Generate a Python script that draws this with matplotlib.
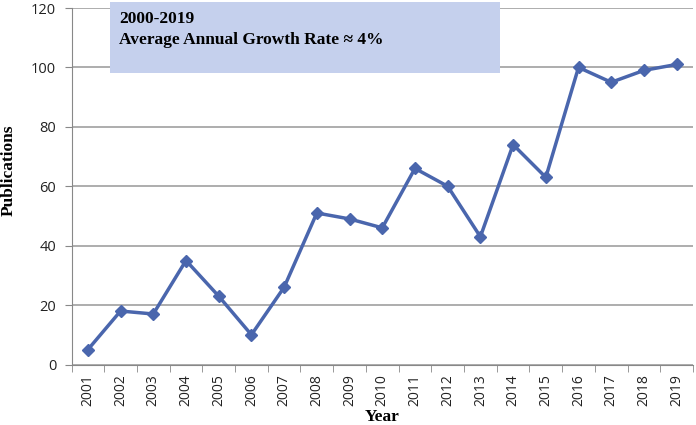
import matplotlib
matplotlib.use("Agg")
import matplotlib.pyplot as plt
from matplotlib.patches import Rectangle

years = [str(y) for y in range(2001, 2020)]
publications = [5, 18, 17, 35, 23, 10, 26, 51, 49, 46, 66, 60, 43, 74, 63, 100, 95, 99, 101]
yticks = [0, 20, 40, 60, 80, 100, 120]
box_lines = ["2000-2019", "Average Annual Growth Rate \u2248 4%"]

fig = plt.figure(figsize=(6.96, 4.25), dpi=100)
ax = fig.add_axes([71.5/696, 1 - 364.5/425, (693 - 71.5)/696, (364.5 - 8)/425])

x = list(range(len(years)))
ax.plot(x, publications, color="#4a66ad", lw=2.5, marker="D", ms=6.5,
        markerfacecolor="#4a66ad", markeredgecolor="#4a66ad", zorder=3)

ax.set_xlim(-0.5, len(years) - 0.5)
ax.set_ylim(0, 120)
ax.set_yticks(yticks)
ax.set_yticklabels([str(v) for v in yticks], fontsize=10.5, color="#222222",
                   family="Open Sans")
ax.set_xticks(x)
ax.set_xticklabels(years, rotation=90, fontsize=10, color="#222222", family="Open Sans")
ax.tick_params(axis="x", length=0, pad=7)
ax.set_xticks([i - 0.5 for i in range(len(years) + 1)], minor=True)
ax.tick_params(axis="x", which="minor", length=5, color="#888888", direction="out")
ax.tick_params(axis="y", length=5, color="#888888", pad=6)

ax.grid(axis="y", color="#a0a0a0", lw=1.2)
ax.set_axisbelow(True)
for s in ["top", "right"]:
    ax.spines[s].set_visible(False)
ax.spines["left"].set_color("#888888")
ax.spines["bottom"].set_color("#888888")

fig.text(9/696, 1 - 170/425, "Publications", fontsize=12.5, fontweight="bold",
         family="Liberation Serif", rotation=90, ha="center", va="center")
fig.text(382/696, 1 - 417/425, "Year", fontsize=12.5, fontweight="bold",
         family="Liberation Serif", ha="center", va="center")

# annotation box
fig.patches.append(Rectangle((110/696, 1 - 73/425), (500 - 110)/696, (73 - 2)/425,
                             transform=fig.transFigure, facecolor="#c5d0ed",
                             edgecolor="none", zorder=5))
fig.text(119/696, 1 - 19/425, box_lines[0], fontsize=12.5, fontweight="bold",
         family="Liberation Serif", va="center", ha="left", zorder=6)
fig.text(119/696, 1 - 40/425, box_lines[1], fontsize=12.5, fontweight="bold",
         family="Liberation Serif", va="center", ha="left", zorder=6)

fig.savefig("out.png", dpi=100)
